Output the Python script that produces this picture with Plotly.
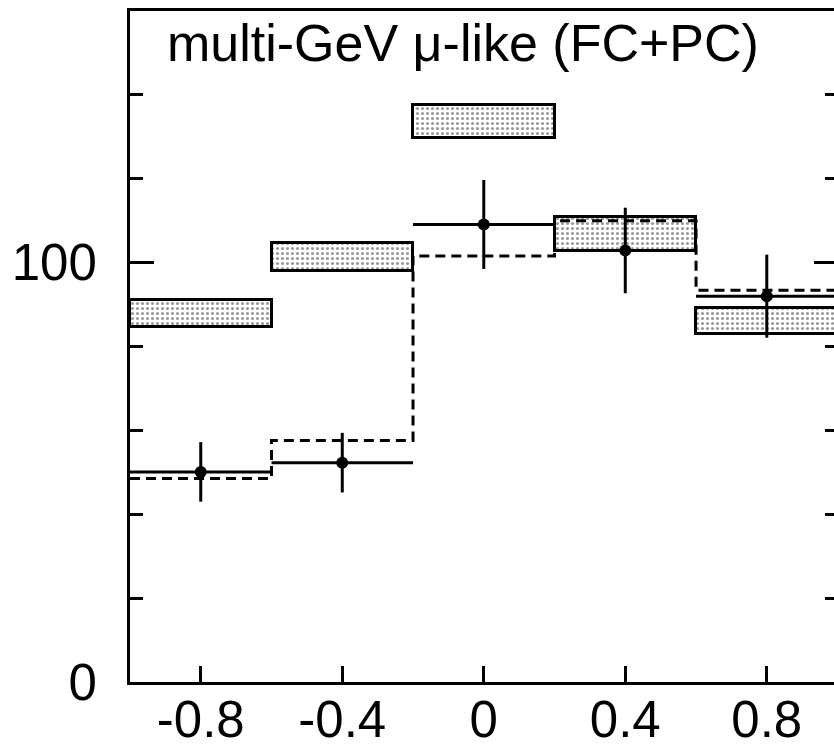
import plotly.graph_objects as go

# ---- data ----
bin_edges = [-1.0, -0.6, -0.2, 0.2, 0.6, 1.0]
bin_centers = [-0.8, -0.4, 0.0, 0.4, 0.8]
data_counts = [50.1, 52.3, 109.1, 102.9, 92.0]
data_errors = [7.1, 7.1, 10.6, 10.2, 9.9]
noosc_low = [84.7, 98.0, 129.6, 102.8, 83.1]
noosc_high = [91.0, 104.8, 137.7, 110.8, 89.3]
bestfit = [48.5, 57.6, 101.6, 110.0, 93.4]
xtick_vals = [-0.8, -0.4, 0.0, 0.4, 0.8]
xtick_text = ["-0.8", "-0.4", "0", "0.4", "0.8"]
ytick_vals = [0, 100]
ytick_text = ["0", "100"]
title_text = "multi-GeV \u03bc-like (FC+PC)"

FONT = "Liberation Sans, Arial, Helvetica, sans-serif"
FS = 51

bin_widths = [bin_edges[i + 1] - bin_edges[i] for i in range(len(bin_centers))]
half_widths = [w / 2 for w in bin_widths]

fig = go.Figure()

# no-oscillation expectation band (stippled boxes)
fig.add_trace(go.Bar(
    x=bin_centers,
    y=[h - l for l, h in zip(noosc_low, noosc_high)],
    base=noosc_low,
    width=bin_widths,
    marker=dict(
        color="white",
        line=dict(color="black", width=3),
        pattern=dict(shape=".", fgcolor="#333333", bgcolor="white", size=5, solidity=0.3),
    ),
    showlegend=False,
    hoverinfo="skip",
))

# best-fit oscillation histogram (dashed)
fig.add_trace(go.Scatter(
    x=bin_edges,
    y=bestfit + [bestfit[-1]],
    mode="lines",
    line=dict(color="black", width=3, dash="10px,6px", shape="hv"),
    showlegend=False,
    hoverinfo="skip",
))

# data points
fig.add_trace(go.Scatter(
    x=bin_centers,
    y=data_counts,
    mode="markers",
    marker=dict(color="black", size=12),
    error_y=dict(type="data", array=data_errors, visible=True, color="black", thickness=3, width=0),
    error_x=dict(type="data", array=half_widths, visible=True, color="black", thickness=3, width=0),
    showlegend=False,
    hoverinfo="skip",
))

# invisible trace to activate the right-side tick axis
fig.add_trace(go.Scatter(x=[None], y=[None], yaxis="y2", showlegend=False, hoverinfo="skip"))

fig.update_layout(
    width=834,
    height=749,
    margin=dict(l=130, r=0, t=11, b=67),
    paper_bgcolor="white",
    plot_bgcolor="white",
    font=dict(family=FONT, size=FS, color="black"),
    bargap=0,
    xaxis=dict(
        range=[-1.0, 0.99],
        tickvals=xtick_vals,
        ticktext=xtick_text,
        ticks="inside",
        ticklen=16,
        tickwidth=3,
        tickcolor="black",
        showline=True,
        linecolor="black",
        linewidth=3,
        mirror=True,
        showgrid=False,
        zeroline=False,
        automargin=False,
        ticklabelstandoff=-9,
        tickfont=dict(family=FONT, size=FS),
    ),
    yaxis=dict(
        range=[0, 160],
        tickvals=ytick_vals,
        ticktext=ytick_text,
        ticks="inside",
        ticklen=24,
        tickwidth=3,
        tickcolor="black",
        showline=True,
        linecolor="black",
        linewidth=3,
        mirror=False,
        showgrid=False,
        zeroline=False,
        automargin=False,
        ticklabelstandoff=20,
        tickfont=dict(family=FONT, size=FS),
        minor=dict(dtick=20, tick0=0, ticks="inside", ticklen=13, tickwidth=3, tickcolor="black", showgrid=False),
    ),
    yaxis2=dict(
        overlaying="y",
        side="right",
        matches="y",
        range=[0, 160],
        tickvals=[100],
        ticks="inside",
        ticklen=20,
        tickwidth=3,
        tickcolor="black",
        showticklabels=False,
        showline=False,
        showgrid=False,
        zeroline=False,
        automargin=False,
        minor=dict(dtick=20, tick0=0, ticks="inside", ticklen=9, tickwidth=3, tickcolor="black", showgrid=False),
    ),
    annotations=[dict(
        text=title_text,
        xref="x domain", yref="y domain",
        x=0.05, y=0.952,
        xanchor="left", yanchor="middle",
        showarrow=False,
        font=dict(family=FONT, size=52, color="black"),
    )],
)

fig.write_html("out.html")
